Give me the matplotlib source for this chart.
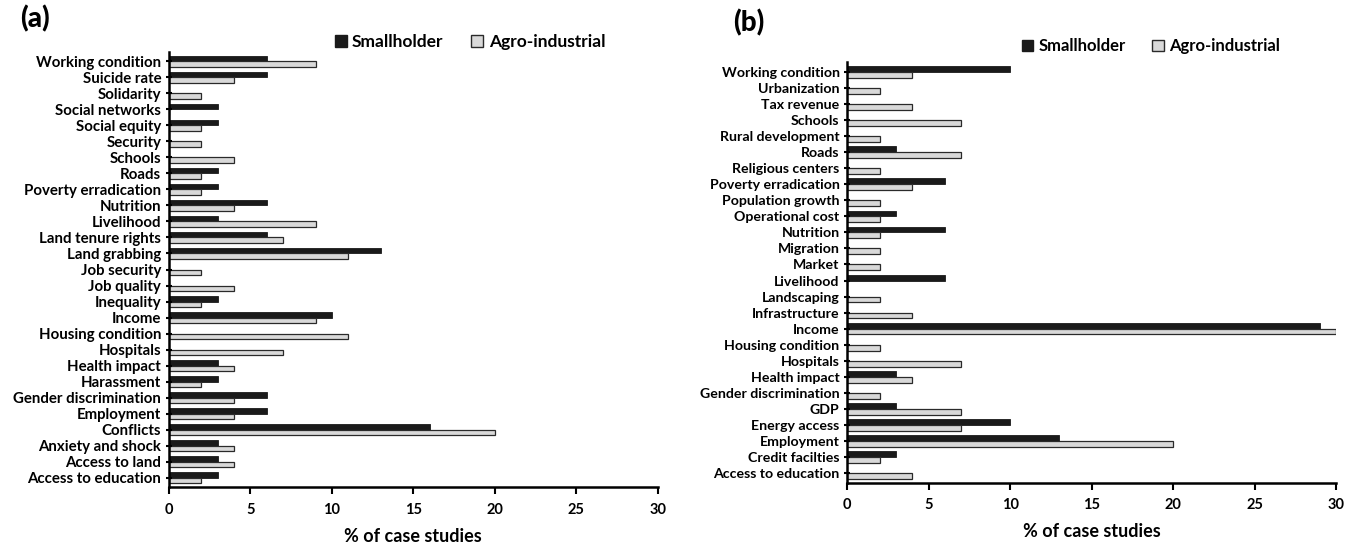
import numpy as np
import matplotlib
matplotlib.use("Agg")
import matplotlib.pyplot as plt
from matplotlib.patches import Patch

plt.rcParams["font.family"] = ["Lato", "DejaVu Sans"]
plt.rcParams["font.weight"] = "bold"

# panel (a), bottom to top
cats_a = ["Access to education", "Access to land", "Anxiety and shock", "Conflicts",
          "Employment", "Gender discrimination", "Harassment", "Health impact",
          "Hospitals", "Housing condition", "Income", "Inequality", "Job quality",
          "Job security", "Land grabbing", "Land tenure rights", "Livelihood",
          "Nutrition", "Poverty erradication", "Roads", "Schools", "Security",
          "Social equity", "Social networks", "Solidarity", "Suicide rate",
          "Working condition"]
small_a = [3, 3, 3, 16, 6, 6, 3, 3, 0, 0, 10, 3, 0, 0, 13, 6, 3, 6, 3, 3, 0, 0, 3, 3, 0, 6, 6]
agro_a = [2, 4, 4, 20, 4, 4, 2, 4, 7, 11, 9, 2, 4, 2, 11, 7, 9, 4, 2, 2, 4, 2, 2, 0, 2, 4, 9]

# panel (b), bottom to top
cats_b = ["Access to education", "Credit facilties", "Employment", "Energy access",
          "GDP", "Gender discrimination", "Health impact", "Hospitals",
          "Housing condition", "Income", "Infrastructure", "Landscaping",
          "Livelihood", "Market", "Migration", "Nutrition", "Operational cost",
          "Population growth", "Poverty erradication", "Religious centers",
          "Roads", "Rural development", "Schools", "Tax revenue", "Urbanization",
          "Working condition"]
small_b = [0, 3, 13, 10, 3, 0, 3, 0, 0, 29, 0, 0, 6, 0, 0, 6, 3, 0, 6, 0, 3, 0, 0, 0, 0, 10]
agro_b = [4, 2, 20, 7, 7, 2, 4, 7, 2, 30, 4, 2, 0, 2, 2, 2, 2, 2, 4, 2, 7, 2, 7, 4, 2, 4]

GREY = "#d9d9d9"


def panel(fig, rect, cats, small, agro, letter, letter_xy, leg_anchor, tick_fs, leg_fs):
    ax = fig.add_axes(rect)
    y = np.arange(len(cats))
    h = 0.36
    ax.barh(y + h / 2, small, height=h, color="#1a1a1a", edgecolor="#1a1a1a", linewidth=0.6)
    ax.barh(y - h / 2, agro, height=h, color=GREY, edgecolor="#2a2a2a", linewidth=0.9)
    ax.set_xlim(0, 30)
    ax.set_ylim(-0.6, len(cats) - 0.4)
    ax.set_xticks([0, 5, 10, 15, 20, 25, 30])
    ax.set_yticks(y)
    ax.set_yticklabels(cats, fontsize=tick_fs, fontweight="bold")
    for t in ax.get_xticklabels():
        t.set_fontsize(10.5)
        t.set_fontweight("bold")
    ax.tick_params(axis="y", direction="inout", length=5, width=1.5, pad=3)
    ax.tick_params(axis="x", direction="out", length=5, width=1.5, pad=6)
    for s in ["top", "right"]:
        ax.spines[s].set_visible(False)
    for s in ["left", "bottom"]:
        ax.spines[s].set_linewidth(1.8)
    ax.set_xlabel("% of case studies", fontsize=13, fontweight="bold", labelpad=8)
    handles = [Patch(facecolor="#1a1a1a", edgecolor="#1a1a1a", label="Smallholder"),
               Patch(facecolor=GREY, edgecolor="#2a2a2a", label="Agro-industrial")]
    ax.legend(handles=handles, loc="center", bbox_to_anchor=leg_anchor,
              bbox_transform=fig.transFigure, ncol=2, frameon=False,
              handlelength=0.7, handleheight=0.7, handletextpad=0.3,
              columnspacing=1.6, prop={"size": leg_fs, "weight": "bold"})
    fig.text(letter_xy[0], letter_xy[1], letter, fontsize=20, fontweight="black",
             ha="left", va="center")
    return ax


fig = plt.figure(figsize=(13.62, 5.45), dpi=100)
fig.patch.set_facecolor("white")

panel(fig, [0.124, 0.106, 0.359, 0.799], cats_a, small_a, agro_a, "(a)",
      (0.015, 0.965), (0.345, 0.923), 10.8, 12.5)
panel(fig, [0.622, 0.114, 0.359, 0.772], cats_b, small_b, agro_b, "(b)",
      (0.538, 0.958), (0.845, 0.915), 10.2, 12)

fig.savefig("out.png", dpi=100, facecolor="white")
